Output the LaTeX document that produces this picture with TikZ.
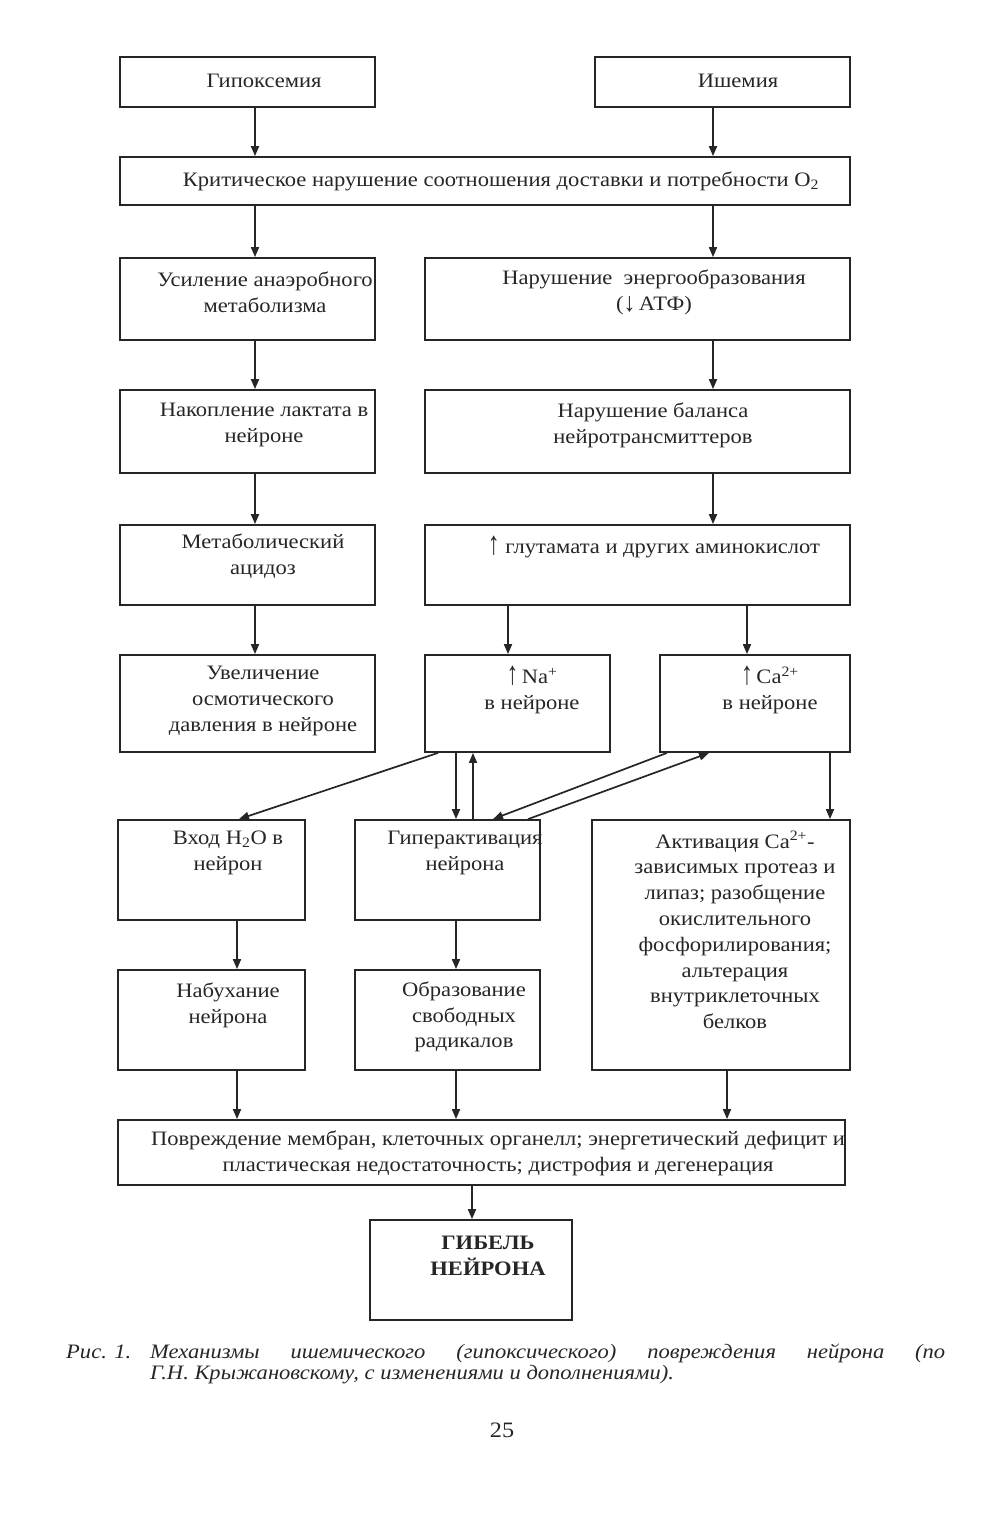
\documentclass[tikz,border=0pt]{standalone}
\usepackage{fontspec}
\setmainfont{Liberation Serif}[FakeStretch=1.1]
\usetikzlibrary{arrows.meta,fit}
\definecolor{ink}{gray}{0.15}
\newcommand\uparr{\raisebox{-0.02em}{\scalebox{1.05}[1.6]{↑}}}
\newcommand\dnarr{\raisebox{-0.06em}{\scalebox{1.05}[1.3]{↓}}}
\begin{document}
\begin{tikzpicture}[x=1pt,y=-1pt,
  box/.style={draw=ink, line width=1.8pt, inner sep=0pt},
  txt/.style={align=center, inner sep=0pt, text=ink, font=\fontsize{20.5}{25.8}\selectfont},
  arr/.style={draw=ink, line width=1.7pt, -{Triangle[length=10pt,width=8pt]}},
  captxt/.style={inner sep=0pt, text=ink, font=\fontsize{20.5}{21.5}\selectfont\itshape}]
\useasboundingbox (0,0) rectangle (1006,1519);
\fill[white] (0,0) rectangle (1006,1519);
% boxes
\node[box, fit={(120,57) (375,107)}] (hyp) {};
\node[box, fit={(595,57) (850,107)}] (isch) {};
\node[box, fit={(120,157) (850,205)}] (crit) {};
\node[box, fit={(120,258) (375,340)}] (anaer) {};
\node[box, fit={(425,258) (850,340)}] (energ) {};
\node[box, fit={(120,390) (375,473)}] (lact) {};
\node[box, fit={(425,390) (850,473)}] (bal) {};
\node[box, fit={(120,525) (375,605)}] (acid) {};
\node[box, fit={(425,525) (850,605)}] (glu) {};
\node[box, fit={(120,655) (375,752)}] (osm) {};
\node[box, fit={(425,655) (610,752)}] (na) {};
\node[box, fit={(660,655) (850,752)}] (ca) {};
\node[box, fit={(118,820) (305,920)}] (h2o) {};
\node[box, fit={(355,820) (540,920)}] (hyper) {};
\node[box, fit={(592,820) (850,1070)}] (activ) {};
\node[box, fit={(118,970) (305,1070)}] (swell) {};
\node[box, fit={(355,970) (540,1070)}] (rad) {};
\node[box, fit={(118,1120) (845,1185)}] (dmg) {};
\node[box, fit={(370,1220) (572,1320)}] (death) {};
% texts
\node[txt] (hypT) at (264,81) {Гипоксемия};
\node[txt] (ischT) at (738,81) {Ишемия};
\node[txt] (critT) at (501,181) {Критическое нарушение соотношения доставки и потребности O\textsubscript{2}};
\node[txt] (anaerT) at (265,292) {Усиление анаэробного\\метаболизма};
\node[txt] (energT) at (654,292) {Нарушение\ \ энергообразования\\(\dnarr\,АТФ)};
\node[txt] (lactT) at (264,425) {Накопление лактата в\\нейроне};
\node[txt] (balT) at (653,425) {Нарушение баланса\\нейротрансмиттеров};
\node[txt] (acidT) at (263,556) {Метаболический\\ацидоз};
\node[txt] (gluT) at (654,547) {\uparr\ глутамата и других аминокислот};
\node[txt] (osmT) at (263,701) {Увеличение\\осмотического\\давления в нейроне};
\node[txt] (naT) at (532,690) {\uparr\,Na\textsuperscript{+}\\в нейроне};
\node[txt] (caT) at (770,690) {\uparr\,Ca\textsuperscript{2+}\\в нейроне};
\node[txt] (h2oT) at (228,853) {Вход H\textsubscript{2}O в\\нейрон};
\node[txt] (hyperT) at (465,853) {Гиперактивация\\нейрона};
\node[txt] (activT) at (735,930) {Активация Ca\textsuperscript{2+}-\\зависимых протеаз и\\липаз; разобщение\\окислительного\\фосфорилирования;\\альтерация\\внутриклеточных\\белков};
\node[txt] (swellT) at (228,1005) {Набухание\\нейрона};
\node[txt] (radT) at (464,1017) {Образование\\свободных\\радикалов};
\node[txt] (dmgT) at (498,1153) {Повреждение мембран, клеточных органелл; энергетический дефицит и\\пластическая недостаточность; дистрофия и дегенерация};
\node[txt, font=\fontsize{20.5}{25.8}\selectfont\bfseries] (deathT) at (488,1256) {ГИБЕЛЬ\\НЕЙРОНА};
% column coordinates
\coordinate (cL) at (255,0);
\coordinate (cR) at (713,0);
\coordinate (cNa) at (508,0);
\coordinate (cCa) at (747,0);
\coordinate (cH) at (237,0);
\coordinate (cHd) at (456,0);
\coordinate (cHu) at (473,0);
\coordinate (cAc) at (830,0);
\coordinate (cAd) at (727,0);
\coordinate (cD) at (472,0);
\coordinate (nd1) at (438,0);
\coordinate (hd1) at (239,0);
\coordinate (cd1) at (667,0);
\coordinate (hd2) at (493,0);
\coordinate (hu2) at (528,0);
\coordinate (cu2) at (709,0);
% connectors
\draw[arr] (cL |- hyp.south) -- (cL |- crit.north);
\draw[arr] (cR |- isch.south) -- (cR |- crit.north);
\draw[arr] (cL |- crit.south) -- (cL |- anaer.north);
\draw[arr] (cR |- crit.south) -- (cR |- energ.north);
\draw[arr] (cL |- anaer.south) -- (cL |- lact.north);
\draw[arr] (cR |- energ.south) -- (cR |- bal.north);
\draw[arr] (cL |- lact.south) -- (cL |- acid.north);
\draw[arr] (cR |- bal.south) -- (cR |- glu.north);
\draw[arr] (cL |- acid.south) -- (cL |- osm.north);
\draw[arr] (cNa |- glu.south) -- (cNa |- na.north);
\draw[arr] (cCa |- glu.south) -- (cCa |- ca.north);
\draw[arr] (nd1 |- na.south) -- (hd1 |- h2o.north);
\draw[arr] (cHd |- na.south) -- (cHd |- hyper.north);
\draw[arr] (cHu |- hyper.north) -- (cHu |- na.south);
\draw[arr] (cd1 |- ca.south) -- (hd2 |- hyper.north);
\draw[arr] (hu2 |- hyper.north) -- (cu2 |- ca.south);
\draw[arr] (cAc |- ca.south) -- (cAc |- activ.north);
\draw[arr] (cH |- h2o.south) -- (cH |- swell.north);
\draw[arr] (cHd |- hyper.south) -- (cHd |- rad.north);
\draw[arr] (cH |- swell.south) -- (cH |- dmg.north);
\draw[arr] (cHd |- rad.south) -- (cHd |- dmg.north);
\draw[arr] (cAd |- activ.south) -- (cAd |- dmg.north);
\draw[arr] (cD |- dmg.south) -- (cD |- death.north);
% caption
\node[captxt, anchor=base west] (capA) at (66,1358) {Рис. 1.};
\node[captxt, anchor=base west, text width=795pt, align=justify] (capB) at (150,1358) {Механизмы ишемического (гипоксического) повреждения нейрона (по\linebreak Г.Н. Крыжановскому, с изменениями и дополнениями).};
\node[txt, font=\fontsize{22}{26}\selectfont] (page) at (502,1430) {25};
\end{tikzpicture}
\end{document}
